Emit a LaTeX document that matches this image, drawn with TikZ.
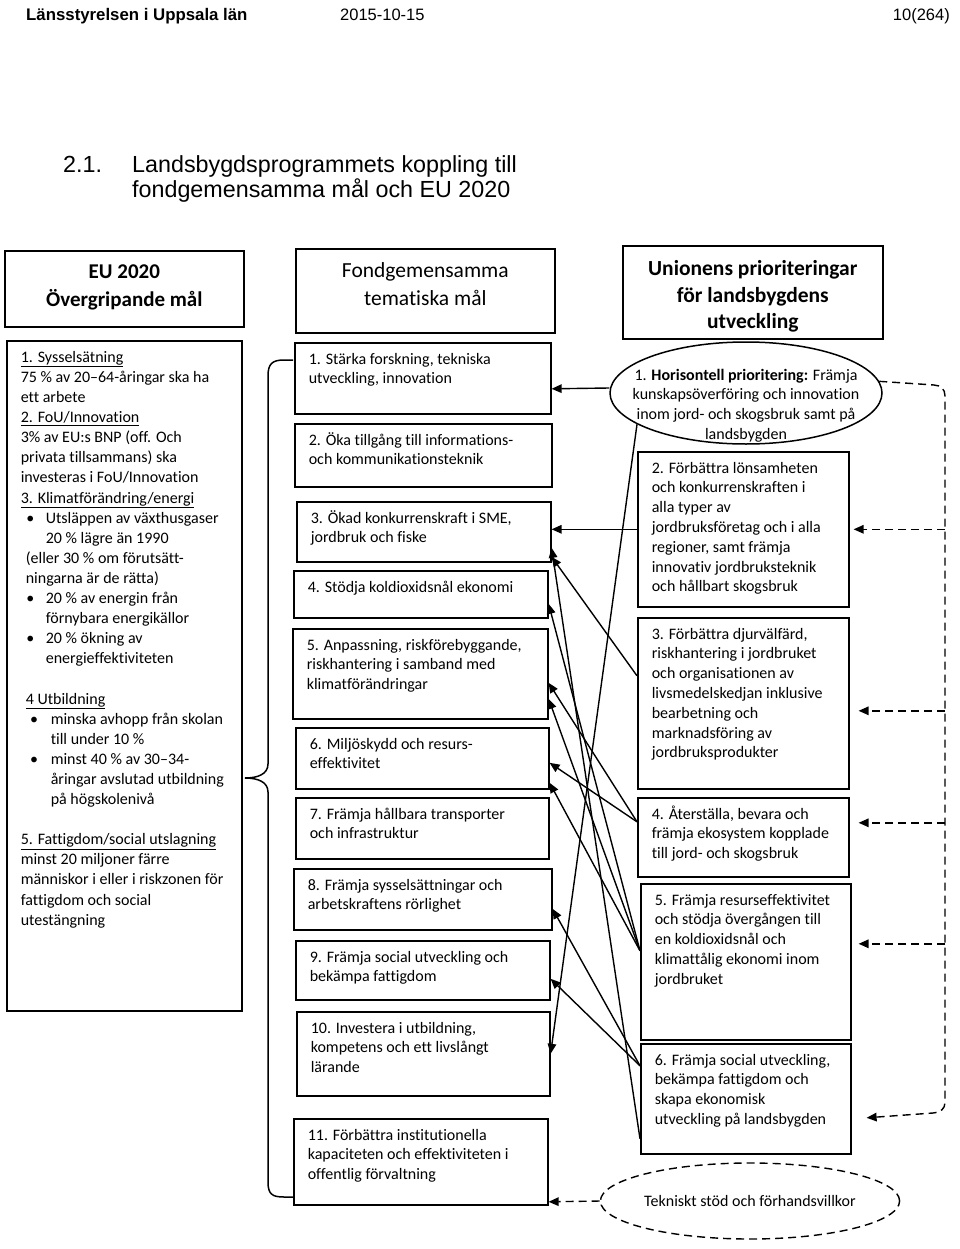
\documentclass[tikz,border=0pt]{standalone}
\usepackage{fontspec}
\setmainfont{Carlito}[Ligatures=NoCommon]
\newfontfamily\arialf{Liberation Sans}
\usetikzlibrary{arrows.meta,calc,shapes.geometric}
\newcommand\bodyf{\fontsize{16}{19.8}\selectfont}
\newcommand\leftf{\fontsize{16}{20.1}\selectfont}
\newcommand\bt[3]{\parbox[t][#2][t]{#1}{\raggedright\strut #3}}
\newcommand\bul{\hspace*{5.5pt}\makebox[19.5pt][l]{•}}
\newcommand\bulb{\hspace*{9.3pt}\makebox[20.7pt][l]{•}}
\tikzset{
  bx/.style={draw, line width=1.6pt, rectangle, anchor=north west, inner xsep=14pt, inner ysep=7.5pt, font=\bodyf},
  hbx/.style={draw, line width=1.6pt, rectangle, anchor=north west, inner sep=0pt},
  htxt/.style={align=center, inner sep=0pt},
  con/.style={line width=1.4pt, -{Triangle[length=10pt,width=8.5pt]}},
  dcon/.style={con, dash pattern=on 8pt off 5pt},
  dln/.style={line width=1.4pt, dash pattern=on 8pt off 5pt},
}
\begin{document}
\begin{tikzpicture}[x=1pt,y=-1pt]
\useasboundingbox (0,0) rectangle (960,1249);

% page header
\node[anchor=base west, inner sep=0pt, font=\arialf\bfseries\fontsize{16.8}{19}\selectfont] (hd1) at (26,21) {Länsstyrelsen i Uppsala län};
\node[anchor=base west, inner sep=0pt, font=\arialf\fontsize{16.5}{19}\selectfont] (hd2) at (340,21) {2015-10-15};
\node[anchor=base east, inner sep=0pt, font=\arialf\fontsize{16.5}{19}\selectfont] (hd3) at (950,21) {10(264)};

% title
\node[anchor=base west, inner sep=0pt, font=\arialf\fontsize{23.3}{25}\selectfont] (ti0) at (63,173) {2.1.};
\node[anchor=base west, inner sep=0pt, font=\arialf\fontsize{23.3}{25}\selectfont] (ti1) at (132,173) {Landsbygdsprogrammets koppling till};
\node[anchor=base west, inner sep=0pt, font=\arialf\fontsize{23.3}{25}\selectfont] (ti2) at (132,198) {fondgemensamma mål och EU 2020};

% column headers
\node[hbx, minimum width=239pt, minimum height=76pt] (h1) at (4,250) {};
\node[htxt, font=\bfseries\fontsize{21}{28}\selectfont] (h1t) at ($(h1.center)+(0,-1)$) {EU 2020\\Övergripande mål};
\node[hbx, minimum width=259pt, minimum height=84pt] (h2) at (295,248) {};
\node[htxt, font=\fontsize{21.5}{28}\selectfont] (h2t) at ($(h2.center)+(0,-6.5)$) {Fondgemensamma\\tematiska mål};
\node[hbx, minimum width=260pt, minimum height=93pt] (h3) at (622,245) {};
\node[htxt, font=\bfseries\fontsize{21.5}{26.3}\selectfont] (h3t) at ($(h3.center)+(0,4)$) {Unionens prioriteringar\\för landsbygdens\\utveckling};

% left box
\node[bx, inner xsep=10pt, font=\leftf] (lb) at (6,340) {\parbox[t][655pt][t]{215pt}{\raggedright\leftskip=4pt\strut
\underline{1. Sysselsätning}\\
75 \% av 20–64-åringar ska ha\\
ett arbete\\
\underline{2. FoU/Innovation}\\
3\% av EU:s BNP (off. Och\\
privata tillsammans) ska\\
investeras i FoU/Innovation\\
\underline{3. Klimatförändring/energi}\\
\bul Utsläppen av växthusgaser\\
\hspace*{25pt}20 \% lägre än 1990\\
\hspace*{5pt}(eller 30 \% om förutsätt-\\
\hspace*{5pt}ningarna är de rätta)\\
\bul 20 \% av energin från\\
\hspace*{25pt}förnybara energikällor\\
\bul 20 \% ökning av\\
\hspace*{25pt}energieffektiviteten\\[20.1pt]
\hspace*{5pt}\underline{4 Utbildning}\\
\bulb minska avhopp från skolan\\
\hspace*{30pt}till under 10 \%\\
\bulb minst 40 \% av 30–34-\\
\hspace*{30pt}åringar avslutad utbildning\\
\hspace*{30pt}på högskolenivå\\[20.1pt]
\underline{5. Fattigdom/social utslagning}\\
minst 20 miljoner färre\\
människor i eller i riskzonen för\\
fattigdom och social\\
utestängning}};

% middle boxes
\node[bx] (m1) at (294,342) {\bt{228pt}{56pt}{1. Stärka forskning, tekniska\\utveckling, innovation}};
\node[bx] (m2) at (294,423) {\bt{229pt}{48pt}{2. Öka tillgång till informations-\\och kommunikationsteknik}};
\node[bx] (m3) at (296,501) {\bt{226pt}{45pt}{3. Ökad konkurrenskraft i SME,\\jordbruk och fiske}};
\node[bx] (m4) at (293,570) {\bt{226pt}{32pt}{4. Stödja koldioxidsnål ekonomi}};
\node[bx] (m5) at (292,628) {\bt{227pt}{75pt}{5. Anpassning, riskförebyggande,\\riskhantering i samband med\\klimatförändringar}};
\node[bx] (m6) at (295,727) {\bt{225pt}{46pt}{6. Miljöskydd och resurs-\\effektivitet}};
\node[bx] (m7) at (295,797) {\bt{225pt}{46pt}{7. Främja hållbara transporter\\och infrastruktur}};
\node[bx] (m8) at (293,868) {\bt{230pt}{46pt}{8. Främja sysselsättningar och\\arbetskraftens rörlighet}};
\node[bx] (m9) at (295,940) {\bt{226pt}{44pt}{9. Främja social utveckling och\\bekämpa fattigdom}};
\node[bx] (m10) at (296,1011) {\bt{225pt}{69pt}{10. Investera i utbildning,\\kompetens och ett livslångt\\lärande}};
\node[bx] (m11) at (293,1118) {\bt{226pt}{71pt}{11. Förbättra institutionella\\kapaciteten och effektiviteten i\\offentlig förvaltning}};

% brace
\draw[line width=1.5pt] (293,360) -- (284,360) .. controls (272,360) and (268,364) .. (268,376) -- (268,764) .. controls (268,774) and (258,778) .. (245,778) .. controls (258,778) and (268,782) .. (268,792) -- (268,1182) .. controls (268,1194) and (272,1197) .. (284,1197) -- (293,1197);

% right column
\node[draw, ellipse, line width=1.5pt, minimum width=272pt, minimum height=102pt, inner sep=0pt] (e1) at (746,393) {};
\node[htxt, font=\bodyf] (e1t) at ($(e1.center)+(0,12.5)$) {1. \textbf{Horisontell prioritering:} Främja\\kunskapsöverföring och innovation\\inom jord- och skogsbruk samt på\\landsbygden};
\node[bx] (r2) at (637,451) {\bt{183pt}{140pt}{2. Förbättra lönsamheten\\och konkurrenskraften i\\alla typer av\\jordbruksföretag och i alla\\regioner, samt främja\\innovativ jordbruksteknik\\och hållbart skogsbruk}};
\node[bx] (r3) at (637,617) {\bt{183pt}{156pt}{3. Förbättra djurvälfärd,\\riskhantering i jordbruket\\och organisationen av\\livsmedelskedjan inklusive\\bearbetning och\\marknadsföring av\\jordbruksprodukter}};
\node[bx] (r4) at (637,797) {\bt{183pt}{64pt}{4. Återställa, bevara och\\främja ekosystem kopplade\\till jord- och skogsbruk}};
\node[bx] (r5) at (640,883) {\bt{182pt}{141pt}{5. Främja resurseffektivitet\\och stödja övergången till\\en koldioxidsnål och\\klimattålig ekonomi inom\\jordbruket}};
\node[bx] (r6) at (640,1043) {\bt{182pt}{95pt}{6. Främja social utveckling,\\bekämpa fattigdom och\\skapa ekonomisk\\utveckling på landsbygden}};
\node[draw, ellipse, dln, minimum width=277pt, minimum height=76pt, inner sep=0pt, font=\bodyf] (e2) at (750,1201) {Tekniskt stöd och förhandsvillkor};

% solid connectors
\draw[con] ($(e1.west)+(0,-5)$) -- ($(m1.east)+(0,10.5)$);
\draw[con] (e1.196) -- (m10.east);
\draw[con] (r2.west) -- ($(m3.east)+(0,-2.5)$);
\draw[con] ($(r3.west)+(0,-27.5)$) -- ($(m3.east)+(0,25)$);
\draw[con] ($(r6.west)+(0,40)$) -- ($(m3.east)+(0,16)$);
\draw[con] ($(r5.west)+(0,-11)$) -- ($(m4.east)+(0,9.5)$);
\draw[con] ($(r4.west)+(0,-15.5)$) -- ($(m5.east)+(0,9)$);
\draw[con] ($(r5.west)+(0,-11)$) -- ($(m5.east)+(0,25)$);
\draw[con] ($(r4.west)+(0,-15.5)$) -- ($(m6.east)+(0,4.5)$);
\draw[con] ($(r5.west)+(0,-11)$) -- ($(m6.east)+(0,24.5)$);
\draw[con] ($(r6.west)+(0,-33)$) -- ($(m8.east)+(0,9.5)$);
\draw[con] ($(r6.west)+(0,-33)$) -- ($(m9.east)+(0,8.5)$);

% dashed connectors
\draw[dcon] (e2.west) -- ($(m11.east)+(0,40)$);
\coordinate (trk) at (945,400);
\coordinate (a2) at ($(r2.east)+(4,0)$);
\coordinate (a3) at ($(r3.east)+(9,7.5)$);
\coordinate (a4) at ($(r4.east)+(9,-14.5)$);
\coordinate (a5) at ($(r5.east)+(7,-18)$);
\coordinate (a6) at ($(r6.east)+(15,19)$);
\draw[dcon] (e1.5) -- (934,385) .. controls (941,385.5) and (945,389) .. (945,396) -- (945,1102) .. controls (945,1109) and (941,1112) .. (933,1113) -- (a6);
\draw[dcon] (trk |- a2) -- (a2);
\draw[dcon] (trk |- a3) -- (a3);
\draw[dcon] (trk |- a4) -- (a4);
\draw[dcon] (trk |- a5) -- (a5);
\end{tikzpicture}
\end{document}
